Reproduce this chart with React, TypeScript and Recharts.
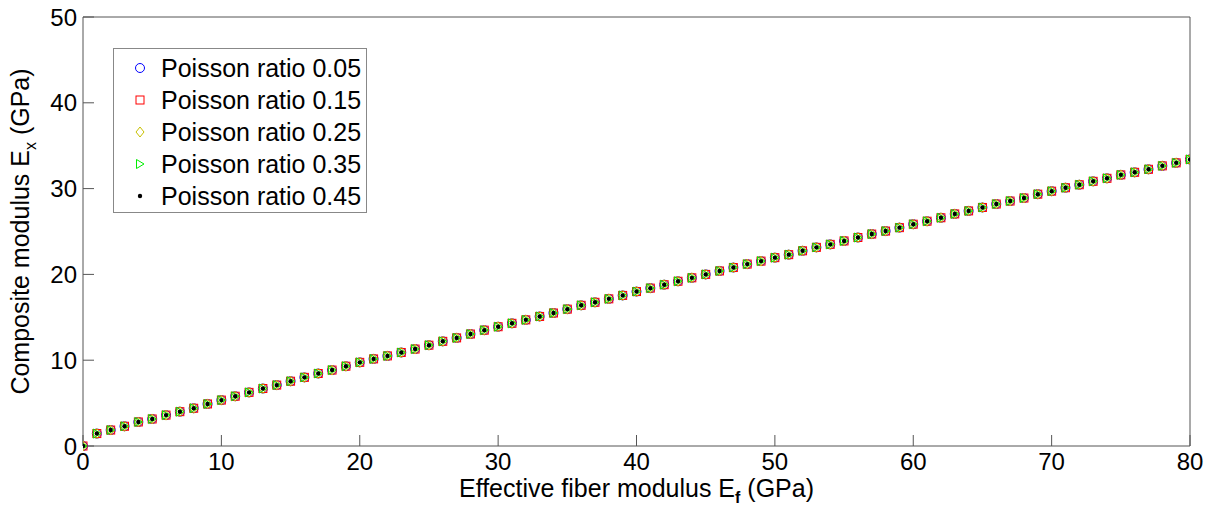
import React from 'react';
import { ScatterChart, Scatter, XAxis, YAxis, Legend, Label } from 'recharts';

// effective fiber modulus Ef (GPa), one point per GPa
const fiberModulus = [
  0, 1, 2, 3, 4, 5, 6, 7, 8, 9, 10, 11, 12, 13, 14, 15, 16, 17, 18, 19, 20,
  21, 22, 23, 24, 25, 26, 27, 28, 29, 30, 31, 32, 33, 34, 35, 36, 37, 38, 39, 40,
  41, 42, 43, 44, 45, 46, 47, 48, 49, 50, 51, 52, 53, 54, 55, 56, 57, 58, 59, 60,
  61, 62, 63, 64, 65, 66, 67, 68, 69, 70, 71, 72, 73, 74, 75, 76, 77, 78, 79, 80,
];

// composite modulus Ex (GPa); the five Poisson ratios land on top of each other
const compositeModulus = [
  0, 1.45, 1.86, 2.3, 2.8, 3.15, 3.6, 4.0, 4.4, 4.9, 5.35,
  5.8, 6.25, 6.7, 7.1, 7.55, 8.0, 8.45, 8.85, 9.3, 9.75,
  10.15, 10.5, 10.9, 11.3, 11.75, 12.2, 12.6, 13.05, 13.5, 13.9,
  14.3, 14.7, 15.1, 15.5, 15.95, 16.4, 16.75, 17.15, 17.55, 18.0,
  18.4, 18.8, 19.2, 19.6, 20.0, 20.4, 20.8, 21.2, 21.55, 21.95,
  22.3, 22.75, 23.15, 23.5, 23.9, 24.3, 24.7, 25.05, 25.45, 25.85,
  26.2, 26.6, 27.05, 27.4, 27.8, 28.2, 28.55, 28.9, 29.35, 29.7,
  30.1, 30.45, 30.85, 31.2, 31.6, 31.9, 32.25, 32.65, 33.0, 33.4,
];

const ratio005 = compositeModulus;
const ratio015 = compositeModulus;
const ratio025 = compositeModulus;
const ratio035 = compositeModulus;
const ratio045 = compositeModulus;

const seriesNames = [
  'Poisson ratio 0.05',
  'Poisson ratio 0.15',
  'Poisson ratio 0.25',
  'Poisson ratio 0.35',
  'Poisson ratio 0.45',
];

const xTicks = [0, 10, 20, 30, 40, 50, 60, 70, 80];
const yTicks = [0, 10, 20, 30, 40, 50];

const FONT = '"Liberation Sans", Arial, sans-serif';
const AXIS = '#555';

const toPoints = (ys: number[]) => fiberModulus.map((x, i) => ({ x, y: ys[i] }));

// matlab style markers
const Marker = ({ kind, cx, cy }: { kind: string; cx: number; cy: number }) => {
  if (kind === 'o') return <circle cx={cx} cy={cy} r={4.5} fill="none" stroke="#0000ff" strokeWidth={1} />;
  if (kind === 's') return <rect x={cx - 4} y={cy - 4} width={8} height={8} fill="none" stroke="#ff0000" strokeWidth={1} />;
  if (kind === 'd')
    return (
      <polygon
        points={`${cx},${cy - 5} ${cx + 4},${cy} ${cx},${cy + 5} ${cx - 4},${cy}`}
        fill="none"
        stroke="#c8c000"
        strokeWidth={1}
      />
    );
  if (kind === '>')
    return (
      <polygon
        points={`${cx - 3.5},${cy - 4.5} ${cx + 4},${cy} ${cx - 3.5},${cy + 4.5}`}
        fill="none"
        stroke="#00ee00"
        strokeWidth={1}
      />
    );
  return <circle cx={cx} cy={cy} r={2.2} fill="#000" />;
};

const series = [
  { name: seriesNames[0], data: toPoints(ratio005), kind: 'o' },
  { name: seriesNames[1], data: toPoints(ratio015), kind: 's' },
  { name: seriesNames[2], data: toPoints(ratio025), kind: 'd' },
  { name: seriesNames[3], data: toPoints(ratio035), kind: '>' },
  { name: seriesNames[4], data: toPoints(ratio045), kind: '.' },
];

const LegendBox = () => (
  <div
    style={{
      border: '1px solid #888',
      background: '#fff',
      boxSizing: 'border-box',
      width: 254,
      height: 165,
      paddingTop: 3,
      fontFamily: FONT,
      fontSize: 25,
      color: '#000',
    }}
  >
    {series.map((s) => (
      <div key={s.name} style={{ height: 32, display: 'flex', alignItems: 'center' }}>
        <svg width={16} height={16} style={{ marginLeft: 18, marginRight: 13 }}>
          <Marker kind={s.kind} cx={8} cy={8} />
        </svg>
        <span>{s.name}</span>
      </div>
    ))}
  </div>
);

const XLabel = (props: any) => {
  const { x, width } = props.viewBox;
  return (
    <text x={x + width / 2} y={497} textAnchor="middle" fontFamily={FONT} fontSize={25} fill="#000">
      Effective fiber modulus E
      <tspan fontSize={16} fontWeight="bold" dy={6}>f</tspan>
      <tspan dy={-6}> (GPa)</tspan>
    </text>
  );
};

const YLabel = () => {
  const cx = 29;
  const cy = 17 + (446 - 17) / 2;
  return (
    <text
      x={cx}
      y={cy}
      transform={`rotate(-90, ${cx}, ${cy})`}
      textAnchor="middle"
      fontFamily={FONT}
      fontSize={25}
      fill="#000"
    >
      Composite modulus E
      <tspan fontSize={16} dy={7}>x</tspan>
      <tspan dy={-7}> (GPa)</tspan>
    </text>
  );
};

export default function App() {
  return (
    <div style={{ position: 'absolute', left: 0, top: 0, background: '#fff' }}>
      <ScatterChart width={1205} height={506} margin={{ top: 16, right: 14, left: 0, bottom: 0 }}>
        <XAxis
          type="number"
          dataKey="x"
          domain={[0, 80]}
          ticks={xTicks}
          height={60}
          tickSize={-11}
          tickMargin={18}
          axisLine={{ stroke: AXIS }}
          tickLine={{ stroke: AXIS }}
          tick={{ fill: '#000', fontSize: 24, fontFamily: FONT }}
          allowDataOverflow
        >
          <Label content={<XLabel />} />
        </XAxis>
        <XAxis
          xAxisId="top"
          orientation="top"
          type="number"
          domain={[0, 80]}
          ticks={xTicks}
          height={1}
          tickSize={-11}
          tick={false}
          axisLine={{ stroke: AXIS }}
          tickLine={{ stroke: AXIS }}
        />
        <YAxis
          type="number"
          dataKey="y"
          domain={[0, 50]}
          ticks={yTicks}
          width={83}
          tickSize={-11}
          tickMargin={17}
          axisLine={{ stroke: AXIS }}
          tickLine={{ stroke: AXIS }}
          tick={{ fill: '#000', fontSize: 24, fontFamily: FONT }}
        >
          <Label content={<YLabel />} />
        </YAxis>
        <YAxis
          yAxisId="right"
          orientation="right"
          type="number"
          domain={[0, 50]}
          ticks={yTicks}
          width={1}
          tickSize={-11}
          tick={false}
          axisLine={{ stroke: AXIS }}
          tickLine={{ stroke: AXIS }}
        />
        {series.map((s) => (
          <Scatter
            key={s.name}
            name={s.name}
            data={s.data}
            isAnimationActive={false}
            shape={(p: any) => <Marker kind={s.kind} cx={p.cx} cy={p.cy} />}
          />
        ))}
        <Legend
          layout="vertical"
          align="center"
          verticalAlign="middle"
          wrapperStyle={{ position: 'absolute', left: 113, top: 48, width: 254, height: 165 }}
          content={() => <LegendBox />}
        />
      </ScatterChart>
    </div>
  );
}
